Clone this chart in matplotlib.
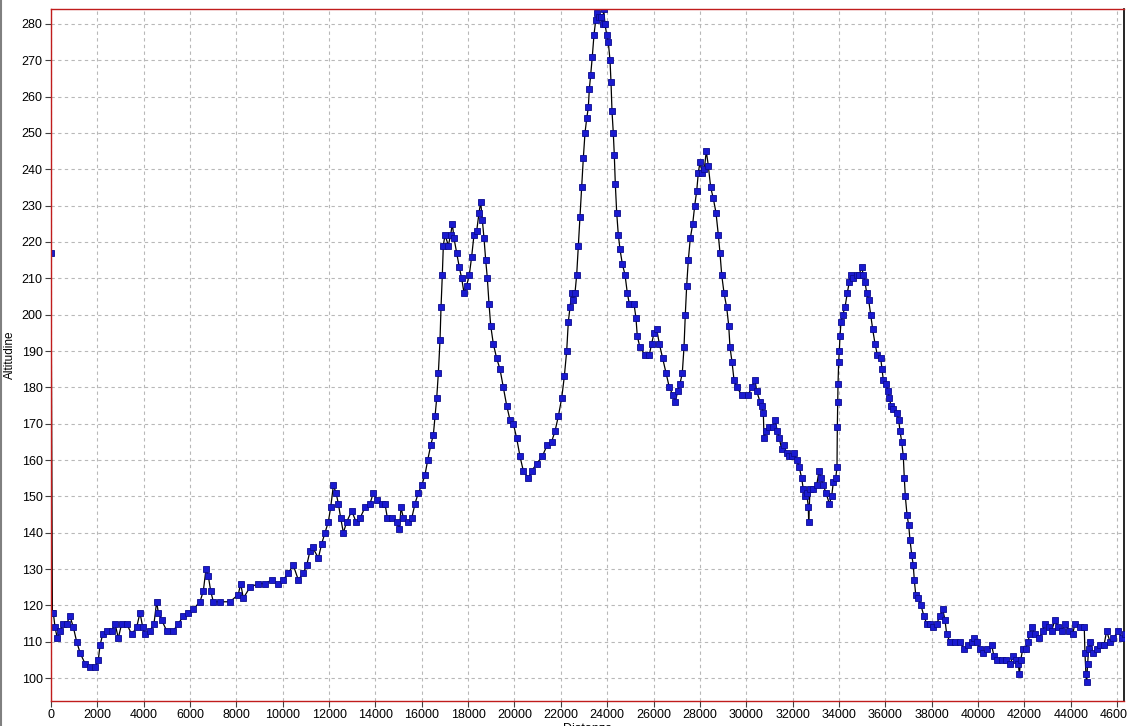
import matplotlib
matplotlib.use("Agg")
import matplotlib.pyplot as plt
from matplotlib.lines import Line2D

# profilo altimetrico: distanza (m), altitudine (m)
dist = [0, 60, 100, 173, 272, 388, 532, 676, 820, 964, 1108, 1252, 1467, 1683, 1899,
        2042, 2114, 2229, 2402, 2618, 2762, 2905, 3049, 3265, 3481, 3697, 3841, 3956,
        4056, 4272, 4444, 4559, 4631, 4775, 4991, 5279, 5495, 5710, 5926, 6142, 6430,
        6573, 6688, 6789, 6890, 7004, 7292, 7724, 8083, 8184, 8299, 8587, 8947, 9234,
        9522, 9810, 10025, 10241, 10457, 10673, 10889, 11033, 11176, 11291, 11536,
        11680, 11823, 11967, 12069, 12184, 12298, 12400, 12501, 12616, 12760, 12976,
        13162, 13334, 13550, 13766, 13910, 14054, 14270, 14413, 14514, 14701, 14917,
        15032, 15104, 15205, 15421, 15565, 15708, 15852, 15996, 16140, 16255, 16384,
        16499, 16571, 16643, 16715, 16786, 16829, 16886, 16929, 17001, 17145, 17246,
        17318, 17390, 17505, 17620, 17720, 17821, 17936, 18051, 18152, 18253, 18368,
        18468, 18541, 18612, 18684, 18757, 18828, 18900, 18973, 19085, 19230, 19374,
        19518, 19662, 19806, 19949, 20094, 20237, 20381, 20597, 20741, 20957, 21200,
        21400, 21600, 21750, 21890, 22036, 22150, 22252, 22322, 22395, 22468, 22538,
        22611, 22684, 22753, 22826, 22899, 22969, 23042, 23116, 23185, 23228, 23288,
        23357, 23430, 23504, 23573, 23646, 23732, 23806, 23849, 23905, 23978, 24047,
        24121, 24164, 24207, 24263, 24306, 24350, 24410, 24479, 24552, 24651, 24768,
        24867, 24954, 25156, 25243, 25299, 25415, 25631, 25817, 25920, 26020, 26136,
        26249, 26395, 26537, 26680, 26827, 26939, 27043, 27142, 27241, 27314, 27370,
        27430, 27500, 27586, 27690, 27776, 27862, 27931, 28004, 28103, 28190, 28276,
        28362, 28466, 28578, 28695, 28794, 28867, 28940, 29040, 29156, 29243, 29299,
        29386, 29472, 29588, 29804, 30089, 30235, 30378, 30451, 30594, 30666, 30737,
        30767, 30853, 30996, 31140, 31240, 31341, 31426, 31527, 31627, 31744, 31858,
        31960, 32073, 32176, 32289, 32391, 32462, 32535, 32609, 32678, 32694, 32751,
        32894, 33038, 33139, 33225, 33325, 33441, 33585, 33686, 33758, 33860, 33916,
        33930, 33945, 33960, 33988, 34016, 34045, 34088, 34161, 34261, 34361, 34447,
        34520, 34620, 34765, 34865, 34980, 35052, 35124, 35196, 35283, 35369, 35455,
        35556, 35655, 35802, 35858, 35914, 36030, 36117, 36172, 36246, 36345, 36493,
        36578, 36634, 36708, 36777, 36820, 36864, 36936, 37010, 37066, 37139, 37208,
        37251, 37312, 37424, 37540, 37670, 37786, 37929, 38073, 38217, 38360, 38476,
        38576, 38650, 38792, 39008, 39224, 39396, 39583, 39727, 39827, 39943, 40087,
        40230, 40403, 40590, 40690, 40834, 41021, 41208, 41381, 41525, 41640, 41740,
        41783, 41843, 41930, 42059, 42145, 42244, 42318, 42460, 42646, 42791, 42891,
        43077, 43177, 43320, 43464, 43608, 43752, 43939, 44083, 44182, 44398, 44585,
        44615, 44658, 44688, 44731, 44774, 44831, 44947, 45120, 45264, 45436, 45551,
        45694, 45839, 46055, 46199, 46342]

alt = [217, 118, 118, 114, 111, 113, 115, 115, 117, 114, 110, 107, 104, 103, 103,
       105, 109, 112, 113, 113, 115, 111, 115, 115, 112, 114, 118, 114,
       112, 113, 115, 121, 118, 116, 113, 113, 115, 117, 118, 119, 121,
       124, 130, 128, 124, 121, 121, 121, 123, 126, 122, 125, 126, 126,
       127, 126, 127, 129, 131, 127, 129, 131, 135, 136, 133,
       137, 140, 143, 147, 153, 151, 148, 144, 140, 143, 146,
       143, 144, 147, 148, 151, 149, 148, 148, 144, 144, 143,
       141, 147, 144, 143, 144, 148, 151, 153, 156, 160, 164,
       167, 172, 177, 184, 193, 202, 211, 219, 222, 219, 222,
       225, 221, 217, 213, 210, 206, 208, 211, 216, 222, 223,
       228, 231, 226, 221, 215, 210, 203, 197, 192, 188, 185,
       180, 175, 171, 170, 166, 161, 157, 155, 157, 159, 161,
       164, 165, 168, 172, 177, 183, 190, 198, 202, 206, 204,
       206, 211, 219, 227, 235, 243, 250, 254, 257, 262, 266,
       271, 277, 281, 283, 282, 282, 280, 284, 280, 277, 275,
       270, 264, 256, 250, 244, 236, 228, 222, 218, 214, 211,
       206, 203, 203, 199, 194, 191, 189, 189, 192, 195, 196,
       192, 188, 184, 180, 178, 176, 179, 181, 184, 191, 200,
       208, 215, 221, 225, 230, 234, 239, 242, 239, 240, 245,
       241, 235, 232, 228, 222, 217, 211, 206, 202, 197, 191,
       187, 182, 180, 178, 178, 180, 182, 179, 176, 175, 173,
       166, 168, 169, 169, 171, 168, 166, 163, 164, 162, 161,
       161, 162, 160, 158, 155, 152, 150, 151, 147, 143, 152,
       152, 153, 157, 155, 153, 151, 148, 150, 154, 155, 158,
       169, 176, 181, 187, 190, 194, 198, 200, 202, 206, 209,
       211, 210, 211, 211, 213, 211, 209, 206, 204, 200, 196,
       192, 189, 188, 185, 182, 181, 179, 177, 175, 174, 173,
       171, 168, 165, 161, 155, 150, 145, 142, 138, 134, 131,
       127, 123, 122, 120, 117, 115, 115, 114, 115, 117, 119,
       116, 112, 110, 110, 110, 108, 109, 110, 111, 110, 108,
       107, 108, 109, 106, 105, 105, 105, 104, 106, 105, 104,
       101, 105, 108, 108, 110, 112, 114, 112, 111, 113, 115,
       114, 113, 116, 114, 113, 115, 113, 112, 115, 114, 114,
       107, 101, 99, 104, 108, 110, 107, 108, 109, 109, 113,
       110, 111, 113, 111, 112]

x_ticks = list(range(0, 48000, 2000))
y_ticks = list(range(100, 290, 10))

plt.rcParams['font.family'] = ['Liberation Sans', 'DejaVu Sans']

fig = plt.figure(figsize=(11.27, 7.26), dpi=100)
ax = fig.add_axes([51 / 1127, 1 - 701 / 726, (1124 - 51) / 1127, (701 - 9) / 726])

red = '#c01c1c'
ax.plot(dist, alt, color='black', lw=0.9, marker='s', markersize=4.2,
        markerfacecolor='#1a1ad0', markeredgecolor='#0c0c90', markeredgewidth=0.6,
        zorder=3)

ax.set_xlim(0, 46300)
ax.set_ylim(93.7, 284.1)
ax.set_xticks(x_ticks)
ax.set_yticks(y_ticks)
ax.set_xticklabels([str(v) for v in x_ticks])
ax.set_yticklabels([str(v) for v in y_ticks])
ax.tick_params(labelsize=9, length=4, width=0.8, color='#404040', pad=2)

ax.grid(True, color='#b8b8b8', linestyle=(0, (3, 3)), linewidth=0.8)
ax.set_axisbelow(True)

for side in ['left', 'bottom', 'top']:
    ax.spines[side].set_color(red)
    ax.spines[side].set_linewidth(1.0)
    ax.spines[side].set_zorder(4)
ax.spines['right'].set_color('black')
ax.spines['right'].set_linewidth(1.2)

ax.set_xlabel('Distanza', fontsize=9, labelpad=1)
ax.set_ylabel('Altitudine', fontsize=8.5, labelpad=4)

# bordo grigio della finestra
fig.add_artist(Line2D([0.0008, 0.0008], [0, 1], color='#808080', lw=1.5,
                      transform=fig.transFigure))

fig.savefig('out.png', dpi=100)
